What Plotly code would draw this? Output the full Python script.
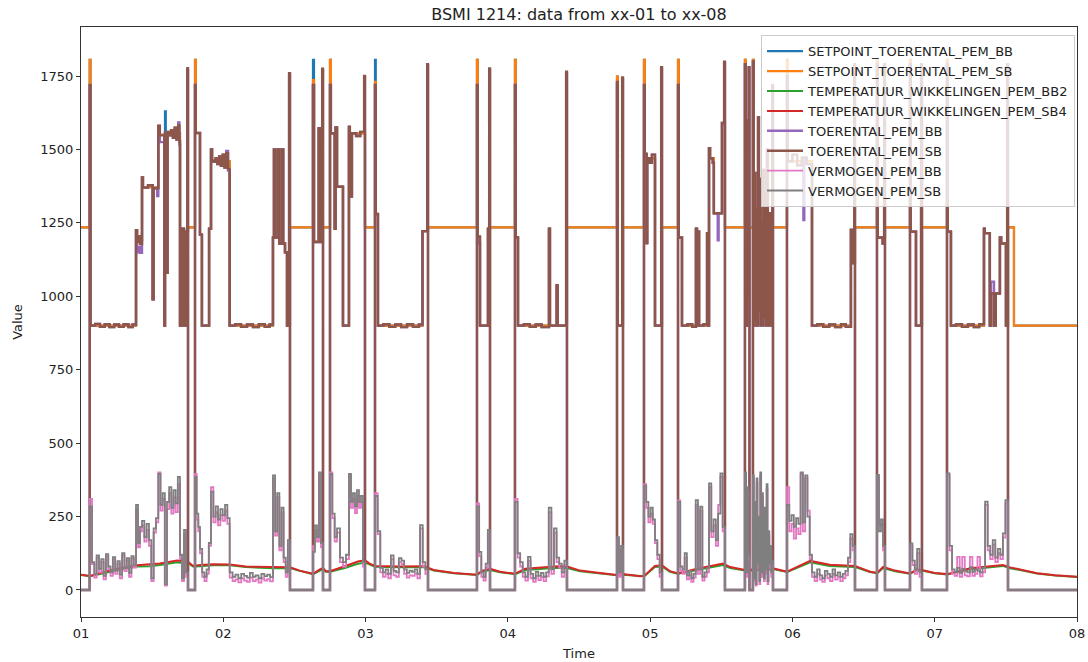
import numpy as np
import plotly.graph_objects as go

# ---------------- DATA (time in hours from day 01 00:00) ----------------
series_names = ["SETPOINT_TOERENTAL_PEM_BB", "SETPOINT_TOERENTAL_PEM_SB",
                "TEMPERATUUR_WIKKELINGEN_PEM_BB2", "TEMPERATUUR_WIKKELINGEN_PEM_SB4",
                "TOERENTAL_PEM_BB", "TOERENTAL_PEM_SB", "VERMOGEN_PEM_BB", "VERMOGEN_PEM_SB"]
day_ticks = [1, 2, 3, 4, 5, 6, 7, 8]
day_labels = ["01", "02", "03", "04", "05", "06", "07", "08"]
value_ticks = [0, 250, 500, 750, 1000, 1250, 1500, 1750]

# TOERENTAL_PEM_SB (hour, rpm) step data
toerental_sb = [
    (0.0, 0), (1.47, 1720), (1.60, 900), (2.4, 906), (3.2, 896), (4.0, 905), (4.8, 895), (5.6, 904),
    (6.4, 896), (7.2, 905), (8.0, 895), (8.7, 904),
    (9.28, 1225), (9.45, 1185), (9.7, 1205), (9.95, 1178),
    (10.29, 1405), (10.45, 1370), (11.3, 1378), (12.09, 990), (12.25, 1368),
    (13.04, 1580), (13.3, 1548), (14.05, 900), (14.17, 1556), (14.5, 1080), (14.6, 1560), (14.9, 1548),
    (15.2, 1566), (15.5, 1540), (15.8, 1574), (16.1, 1534), (16.4, 1582), (16.6, 1528),
    (16.7, 900), (17.04, 1230), (17.37, 900), (17.71, 1220), (17.93, 1777), (18.05, 0),
    (19.23, 1720), (19.36, 1556), (20.07, 1210), (20.4, 900), (21.6, 1230), (21.93, 1500), (22.1, 1462),
    (22.4, 1458), (22.7, 1470), (23.0, 1450), (23.3, 1476), (23.6, 1444), (23.9, 1482), (24.2, 1438),
    (24.5, 1487), (24.8, 1434),
    (25.08, 900), (26.0, 905), (27.0, 896), (28.0, 904), (29.0, 895), (30.0, 905), (31.0, 896), (31.8, 904),
    (32.38, 1200), (32.55, 1500), (32.75, 1200), (33.2, 1500), (33.45, 1180), (33.9, 1500), (34.1, 1180),
    (34.41, 1150), (34.75, 900), (35.1, 1760), (35.25, 0),
    (39.13, 1720), (39.3, 1185), (40.1, 1572), (40.3, 1185), (40.68, 1775), (40.82, 0),
    (42.0, 1720), (42.15, 1555), (42.8, 1230), (42.95, 1575), (43.18, 1373), (44.19, 900), (45.2, 1577),
    (45.35, 1555), (45.55, 1340), (45.7, 1555), (46.4, 1546), (47.1, 1560), (47.76, 1750), (47.9, 0),
    (49.59, 1720), (49.72, 1280), (50.09, 900), (51.0, 905), (52.0, 896), (53.0, 904), (54.0, 895),
    (55.0, 905), (56.0, 896), (57.0, 904), (57.6, 1222),
    (58.4, 1790), (58.53, 0),
    (66.79, 1720), (66.92, 1203), (67.3, 900), (68.65, 1230), (68.85, 1776), (68.99, 0),
    (73.2, 1720), (73.33, 1200), (73.71, 900), (74.7, 905), (75.7, 896), (76.7, 904), (77.7, 895),
    (78.94, 1230), (79.1, 900), (80.24, 1038),
    (80.4, 900), (81.83, 1765), (81.97, 0),
    (90.41, 1730), (90.55, 900), (91.28, 1745), (91.42, 0),
    (94.96, 1720), (95.1, 1485), (95.4, 1181), (95.5, 1470), (95.9, 1455), (96.3, 1482), (96.82, 900),
    (97.86, 1780), (98.0, 0),
    (100.7, 1720), (100.83, 1200), (101.37, 900), (102.3, 905), (103.1, 896), (103.73, 1230), (103.9, 900),
    (104.07, 1220), (104.25, 900), (105.0, 905), (105.6, 1215), (105.75, 900), (105.93, 1504),
    (106.1, 1470), (106.55, 1455),
    (106.75, 1283), (108.12, 1590), (108.48, 1799), (108.62, 0),
    (111.99, 1790), (112.12, 900), (112.3, 1600), (112.45, 1000), (112.62, 1780), (112.75, 0),
    (113.34, 1800), (113.47, 900), (113.6, 1420), (113.75, 920), (113.9, 1300), (114.05, 900),
    (114.2, 1610), (114.35, 950), (114.5, 1400), (114.65, 900), (114.8, 1250), (114.95, 900),
    (115.1, 1430), (115.25, 930), (115.4, 1350), (115.55, 900), (115.7, 1500), (115.85, 900),
    (116.0, 1283), (116.15, 900), (116.4, 1283), (116.5, 900), (116.6, 1720), (116.72, 0),
    (119.08, 1750), (119.2, 1460), (120.0, 1482), (120.8, 1446), (121.6, 1472), (122.4, 1450),
    (123.3, 900), (124.2, 905), (125.2, 896), (126.2, 904), (127.2, 895), (128.2, 905), (129.0, 896),
    (129.87, 1226), (130.2, 1113), (130.42, 1790), (130.55, 0),
    (134.26, 1790), (134.4, 1200), (135.2, 1180), (135.47, 1790), (135.61, 0),
    (139.83, 1790), (139.95, 1220), (140.84, 900), (141.7, 1790), (141.85, 0),
    (146.07, 1790), (146.2, 1220), (146.74, 900), (147.6, 905), (148.6, 896), (149.6, 904), (150.6, 895),
    (151.5, 905),
    (152.31, 1230), (152.45, 1215), (153.3, 900), (153.5, 1010), (154.0, 900), (154.3, 1010),
    (155.0, 1200), (155.2, 1180), (156.02, 900), (156.22, 1790), (156.36, 0), (168.0, 0),
]

# TOERENTAL_PEM_BB (hour, rpm)
toerental_bb = [
    (0.0, 0), (1.47, 1715), (1.60, 900), (2.4, 906), (3.2, 896), (4.0, 905), (4.8, 895), (5.6, 904),
    (6.4, 896), (7.2, 905), (8.0, 895), (8.7, 904),
    (9.28, 1225), (9.45, 1150), (9.7, 1168), (9.95, 1148),
    (10.29, 1405), (10.45, 1370), (11.3, 1378), (12.09, 990), (12.25, 1368), (12.85, 1341),
    (13.04, 1580), (13.3, 1525), (14.05, 900), (14.17, 1556), (14.5, 1080), (14.6, 1560), (14.9, 1548),
    (15.2, 1566), (15.5, 1540), (15.8, 1574), (16.1, 1534), (16.4, 1592), (16.6, 1515),
    (16.7, 900), (17.04, 1230), (17.37, 900), (17.71, 1220), (17.93, 1770), (18.05, 0),
    (19.23, 1720), (19.36, 1556), (20.07, 1210), (20.4, 900), (21.6, 1230), (21.93, 1500), (22.1, 1462),
    (22.4, 1458), (22.7, 1470), (23.0, 1450), (23.3, 1476), (23.6, 1444), (23.9, 1482), (24.2, 1438),
    (24.5, 1495), (24.8, 1428),
    (25.08, 900), (26.0, 905), (27.0, 896), (28.0, 904), (29.0, 895), (30.0, 905), (31.0, 896), (31.8, 904),
    (32.38, 1200), (32.55, 1500), (32.75, 1200), (33.2, 1500), (33.45, 1180), (33.9, 1500), (34.1, 1180),
    (34.41, 1150), (34.75, 900), (35.1, 1755), (35.25, 0),
    (39.13, 1720), (39.3, 1185), (40.1, 1572), (40.3, 1185), (40.68, 1770), (40.82, 0),
    (42.0, 1720), (42.15, 1555), (42.8, 1230), (42.95, 1575), (43.18, 1373), (44.19, 900), (45.2, 1577),
    (45.35, 1555), (45.55, 1340), (45.7, 1555), (46.4, 1546), (47.1, 1560), (47.76, 1745), (47.9, 0),
    (49.59, 1720), (49.72, 1280), (50.09, 900), (51.0, 905), (52.0, 896), (53.0, 904), (54.0, 895),
    (55.0, 905), (56.0, 896), (57.0, 904), (57.6, 1222),
    (58.4, 1785), (58.53, 0),
    (66.79, 1720), (66.92, 1180), (67.3, 900), (68.65, 1230), (68.85, 1770), (68.99, 0),
    (73.2, 1720), (73.33, 1200), (73.71, 900), (74.7, 905), (75.7, 896), (76.7, 904), (77.7, 895),
    (78.94, 1230), (79.1, 900), (80.24, 1038),
    (80.4, 900), (81.83, 1760), (81.97, 0),
    (90.41, 1725), (90.55, 900), (91.28, 1740), (91.42, 0),
    (94.96, 1720), (95.1, 1485), (95.4, 1181), (95.5, 1460), (95.9, 1455), (96.3, 1482), (96.82, 900),
    (97.86, 1775), (98.0, 0),
    (100.7, 1720), (100.83, 1200), (101.37, 900), (102.3, 905), (103.1, 896), (103.73, 1230), (103.9, 900),
    (104.07, 1220), (104.25, 900), (105.0, 905), (105.6, 1215), (105.75, 900), (105.93, 1504),
    (106.1, 1470), (106.55, 1455),
    (106.75, 1283), (107.4, 1191), (107.55, 1283), (108.12, 1590), (108.48, 1795), (108.62, 0),
    (111.99, 1790), (112.12, 900), (112.3, 1600), (112.45, 1000), (112.62, 1780), (112.75, 0),
    (113.34, 1800), (113.47, 900), (113.6, 1420), (113.75, 920), (113.9, 1300), (114.05, 900),
    (114.2, 1610), (114.35, 950), (114.5, 1400), (114.65, 900), (114.8, 1250), (114.95, 900),
    (115.1, 1430), (115.25, 930), (115.4, 1350), (115.55, 900), (115.7, 1500), (115.85, 900),
    (116.0, 1283), (116.15, 900), (116.4, 1283), (116.5, 900), (116.6, 1715), (116.72, 0),
    (119.08, 1750), (119.2, 1460), (120.0, 1482), (120.8, 1446), (121.6, 1472), (121.85, 1260),
    (122.0, 1472), (122.4, 1450),
    (123.3, 900), (124.2, 905), (125.2, 896), (126.2, 904), (127.2, 895), (128.2, 905), (129.0, 896),
    (129.87, 1226), (130.2, 1113), (130.42, 1785), (130.55, 0),
    (134.26, 1790), (134.4, 1200), (135.2, 1180), (135.47, 1785), (135.61, 0),
    (139.83, 1790), (139.95, 1220), (140.84, 900), (141.7, 1785), (141.85, 0),
    (146.07, 1790), (146.2, 1220), (146.74, 900), (147.6, 905), (148.6, 896), (149.6, 904), (150.6, 895),
    (151.5, 905),
    (152.31, 1230), (152.45, 1215), (153.3, 900), (153.5, 1050), (154.0, 900), (154.3, 1010),
    (155.0, 1200), (155.2, 1180), (156.02, 900), (156.22, 1785), (156.36, 0), (168.0, 0),
]

# SETPOINT_TOERENTAL_PEM_SB (hour, rpm)
setpoint_sb = [
    (0.0, 1235), (1.47, 1805), (1.60, 900), (9.28, 1225), (9.45, 1190), (10.29, 1405), (10.45, 1372),
    (12.09, 990), (12.25, 1370), (13.04, 1580), (13.3, 1550), (14.05, 900), (14.17, 1556), (14.5, 1080),
    (14.6, 1556), (16.7, 900), (17.04, 1230), (17.37, 900), (17.71, 1220), (18.05, 1235),
    (19.23, 1805), (19.36, 1556), (20.07, 1210), (20.4, 900), (21.6, 1230), (21.93, 1500), (22.1, 1460),
    (25.08, 900), (32.38, 1200), (32.55, 1500), (32.75, 1200), (33.2, 1500), (33.45, 1180), (33.9, 1500),
    (34.1, 1180), (34.41, 1150), (34.75, 900), (35.25, 1235),
    (39.13, 1736), (39.3, 1185), (40.1, 1572), (40.3, 1185), (40.82, 1235),
    (42.0, 1805), (42.15, 1555), (42.8, 1230), (42.95, 1575), (43.18, 1373), (44.19, 900), (45.2, 1577),
    (45.35, 1555), (45.55, 1340), (45.7, 1555), (47.9, 1235),
    (49.59, 1730), (49.72, 1280), (50.09, 900), (57.6, 1222), (58.53, 1235),
    (66.79, 1805), (66.92, 1203), (67.3, 900), (68.65, 1230), (68.99, 1235),
    (73.2, 1805), (73.33, 1200), (73.71, 900), (78.94, 1230), (79.1, 900), (80.24, 1038), (80.4, 900),
    (81.97, 1235),
    (90.41, 1748), (90.55, 900), (91.42, 1235),
    (94.96, 1805), (95.1, 1485), (95.4, 1181), (95.5, 1470), (96.82, 900), (98.0, 1235),
    (100.7, 1805), (100.83, 1200), (101.37, 900), (103.73, 1230), (103.9, 900), (104.07, 1220),
    (104.25, 900), (105.6, 1215), (105.75, 900), (105.93, 1504), (106.1, 1470), (106.75, 1283),
    (108.12, 1590), (108.62, 1235),
    (111.99, 1805), (112.12, 900), (112.75, 1235), (113.34, 1805), (113.47, 900), (113.6, 1235),
    (119.08, 1805), (119.2, 1460), (123.3, 900), (129.87, 1226), (130.2, 1113), (130.55, 1235),
    (134.26, 1805), (134.4, 1200), (135.61, 1235),
    (139.83, 1805), (139.95, 1220), (140.84, 900), (141.85, 1235),
    (146.07, 1805), (146.2, 1220), (146.74, 900), (152.31, 1230), (152.45, 1215), (153.3, 900),
    (153.5, 1010), (154.0, 900), (154.3, 1010), (155.0, 1200), (155.2, 1180), (156.02, 900),
    (156.36, 1235), (157.37, 900), (168.0, 900),
]

# SETPOINT_TOERENTAL_PEM_BB (hour, rpm)
setpoint_bb = [
    (0.0, 1235), (1.47, 1805), (1.60, 900), (9.28, 1225), (9.45, 1190), (10.29, 1405), (10.45, 1372),
    (12.09, 990), (12.25, 1370), (13.04, 1580), (13.3, 1550), (14.05, 900), (14.17, 1630), (14.3, 1556),
    (14.5, 1080), (14.6, 1556), (16.7, 900), (17.04, 1230), (17.37, 900), (17.71, 1220), (18.05, 1235),
    (19.23, 1805), (19.36, 1556), (20.07, 1210), (20.4, 900), (21.6, 1230), (21.93, 1500), (22.1, 1460),
    (25.08, 900), (32.38, 1200), (32.55, 1500), (32.75, 1200), (33.2, 1500), (33.45, 1180), (33.9, 1500),
    (34.1, 1180), (34.41, 1150), (34.75, 900), (35.25, 1235),
    (39.13, 1805), (39.3, 1185), (40.1, 1572), (40.3, 1185), (40.82, 1235),
    (42.0, 1805), (42.15, 1555), (42.8, 1230), (42.95, 1575), (43.18, 1373), (44.19, 900), (45.2, 1577),
    (45.35, 1555), (45.55, 1340), (45.7, 1555), (47.9, 1235),
    (49.59, 1805), (49.72, 1280), (50.09, 900), (57.6, 1222), (58.53, 1235),
    (66.79, 1805), (66.92, 1203), (67.3, 900), (68.65, 1230), (68.99, 1235),
    (73.2, 1805), (73.33, 1200), (73.71, 900), (78.94, 1230), (79.1, 900), (80.24, 1038), (80.4, 900),
    (81.97, 1235),
    (90.41, 1748), (90.55, 900), (91.42, 1235),
    (94.96, 1805), (95.1, 1485), (95.4, 1181), (95.5, 1470), (96.82, 900), (98.0, 1235),
    (100.7, 1805), (100.83, 1200), (101.37, 900), (103.73, 1230), (103.9, 900), (104.07, 1220),
    (104.25, 900), (105.6, 1215), (105.75, 900), (105.93, 1504), (106.1, 1470), (106.75, 1283),
    (108.12, 1590), (108.62, 1235),
    (111.99, 1805), (112.12, 900), (112.75, 1235), (113.34, 1805), (113.47, 900), (113.6, 1235),
    (119.08, 1805), (119.2, 1460), (123.3, 900), (129.87, 1226), (130.2, 1113), (130.55, 1235),
    (134.26, 1805), (134.4, 1200), (135.61, 1235),
    (139.83, 1805), (139.95, 1220), (140.84, 900), (141.85, 1235),
    (146.07, 1805), (146.2, 1220), (146.74, 900), (152.31, 1230), (152.45, 1215), (153.3, 900),
    (153.5, 1010), (154.0, 900), (154.3, 1010), (155.0, 1200), (155.2, 1180), (156.02, 900),
    (156.36, 1235), (157.37, 900), (168.0, 900),
]

# Winding temperatures (hour grid shared by both)
temp_time_h = [0.0, 1.52, 4.0, 6.6, 9.45, 11.6, 13.3, 16.2, 18.05, 18.9, 20.07, 22.3, 25.1, 27.8, 32.4,
               35.25, 36.9, 39.13, 40.3, 40.82, 41.3, 42.0, 44.5, 46.7, 47.9, 48.7, 49.6, 53.8, 57.85,
               59.5, 62.9, 66.8, 67.6, 69.0, 70.7, 73.2, 74.9, 80.5, 82.0, 84.2, 87.5, 90.4, 91.4, 94.3,
               95.0, 96.8, 98.0, 99.35, 100.7, 103.9, 108.3, 109.5, 112.0, 114.5, 116.7, 119.1, 123.0,
               126.3, 130.55, 133.1, 134.3, 135.3, 137.3, 139.8, 141.0, 141.85, 144.0, 146.1, 150.0,
               155.5, 156.7, 158.4, 161.25, 164.3, 168.0]
temp_sb4 = [52, 48, 62, 74, 84, 86, 90, 100, 96, 82, 85, 88, 87, 80, 77, 77, 66, 55, 70, 75, 64, 64, 81,
            97, 101, 90, 82, 80, 81, 68, 58, 52, 65, 72, 62, 55, 72, 81, 80, 66, 58, 51, 54, 47, 48, 82,
            84, 64, 56, 72, 90, 78, 68, 70, 74, 62, 99, 86, 82, 62, 58, 79, 66, 56, 70, 68, 58, 54, 74,
            85, 77, 70, 57, 50, 45]
temp_bb2 = [51, 47, 58, 70, 80, 81, 85, 94, 91, 80, 81, 84, 84, 78, 74, 75, 65, 54, 66, 71, 62, 62, 75,
            89, 93, 86, 79, 77, 78, 66, 57, 51, 62, 68, 60, 54, 68, 76, 75, 64, 57, 50, 52, 46, 47, 78,
            80, 62, 55, 68, 85, 75, 66, 67, 71, 61, 94, 82, 78, 61, 57, 75, 64, 55, 67, 66, 57, 53, 71,
            82, 74, 68, 56, 49, 44]

# Power: running stretches (start/end hour) and readings sampled evenly within each stretch
power_start_h = [1.47, 9.28, 10.29, 13.04, 16.7, 19.23, 20.07, 21.93, 25.08, 32.38, 39.13, 42.0, 43.18,
                 45.2, 49.59, 66.79, 73.2, 90.41, 94.96, 96.82, 100.7, 105.93, 111.99, 113.34, 119.08,
                 123.3, 129.37, 134.26, 139.83, 146.07]
power_end_h = [9.28, 10.29, 13.04, 16.7, 18.05, 20.07, 21.93, 25.08, 32.38, 35.25, 40.82, 43.18, 45.2,
               47.9, 58.53, 68.99, 81.97, 91.42, 96.82, 98.0, 105.93, 108.62, 112.75, 116.72, 123.3,
               129.37, 130.55, 135.61, 141.85, 156.36]
vermogen_sb = [
    [285, 95, 55, 118, 72, 105, 48, 122, 80, 60, 112, 66, 98, 52, 125, 75, 108, 58, 115, 85],
    [290, 160, 215],
    [235, 180, 225, 170, 40, 210, 245],
    [395, 290, 330, 20, 300, 350, 280, 340, 295, 385],
    [120, 40, 205, 60],
    [385, 260, 215],
    [140, 60, 45, 70, 160],
    [335, 250, 285, 240, 275, 255, 290, 245],
    [60, 45, 52, 40, 55, 48, 42, 58, 45, 50, 40, 55, 47, 52, 44],
    [390, 200, 330, 150, 280, 110, 60, 170],
    [130, 220, 180, 400, 160],
    [395, 260, 180],
    [210, 110, 95, 120],
    [395, 300, 330, 285, 340, 300, 320, 95],
    [320, 200, 75, 60, 70, 55, 118, 65, 60, 108, 100, 70, 58, 66, 62, 70, 55, 221, 95, 70],
    [285, 130, 60, 45, 90, 205],
    [300, 125, 95, 60, 45, 113, 55, 40, 62, 48, 58, 45, 60, 280, 70, 210, 110, 90, 60, 100],
    [180, 60, 150],
    [355, 300, 250, 280, 240],
    [170, 120, 60],
    [300, 80, 70, 125, 50, 65, 40, 55, 306, 70, 284, 45, 60, 75],
    [363, 200, 240, 170, 260, 397, 215],
    [400, 60, 350, 120],
    [390, 40, 300, 20, 380, 90, 250, 30, 400, 60, 330, 150, 40, 280, 70, 360, 30, 200, 90, 150, 60, 100],
    [290, 235, 255, 215, 245, 225, 400, 230, 390, 250, 120],
    [60, 45, 70, 50, 40, 65, 55, 45, 70, 50, 60, 45, 55, 65],
    [110, 190, 150],
    [392, 200, 240, 150],
    [159, 100, 70, 140, 60],
    [397, 150, 70, 62, 75, 58, 72, 65, 60, 78, 62, 70, 66, 60, 75, 301, 150, 120, 170, 110, 140, 120, 193, 306],
]
vermogen_bb = [
    [310, 88, 42, 110, 60, 96, 36, 115, 70, 48, 104, 55, 90, 40, 118, 64, 100, 45, 108, 76],
    [275, 145, 200],
    [220, 165, 205, 150, 30, 195, 230],
    [400, 270, 310, 15, 275, 330, 260, 315, 265, 360],
    [105, 30, 190, 45],
    [395, 240, 200],
    [125, 45, 30, 55, 150],
    [350, 230, 265, 220, 255, 235, 270, 225],
    [42, 30, 36, 26, 40, 32, 28, 42, 30, 35, 25, 40, 32, 37, 29],
    [380, 185, 315, 135, 265, 95, 45, 155],
    [150, 205, 165, 390, 145],
    [400, 245, 165],
    [195, 95, 80, 105],
    [390, 280, 310, 262, 320, 280, 300, 80],
    [330, 190, 60, 45, 55, 40, 105, 50, 45, 95, 88, 55, 42, 50, 48, 56, 40, 210, 80, 55],
    [295, 115, 45, 32, 75, 190],
    [310, 110, 80, 45, 32, 100, 40, 28, 48, 34, 44, 30, 46, 265, 55, 195, 95, 75, 45, 85],
    [170, 45, 135],
    [360, 280, 230, 260, 225],
    [160, 105, 45],
    [305, 65, 55, 110, 36, 50, 28, 42, 290, 55, 270, 32, 45, 60],
    [350, 180, 220, 150, 290, 385, 200],
    [390, 45, 335, 105],
    [380, 30, 285, 15, 365, 75, 235, 20, 390, 45, 315, 135, 30, 265, 55, 345, 20, 185, 75, 135, 45, 85],
    [350, 200, 225, 175, 210, 190, 395, 200, 380, 270, 105],
    [45, 30, 55, 35, 28, 50, 40, 30, 55, 35, 45, 30, 40, 50],
    [95, 175, 135],
    [385, 220, 225, 135],
    [150, 85, 55, 125, 45],
    [390, 135, 55, 48, 113, 45, 113, 50, 46, 113, 48, 55, 113, 46, 60, 290, 135, 105, 155, 95, 125, 105, 178, 295],
]

colors = ["#1f77b4", "#ff7f0e", "#2ca02c", "#d62728", "#9467bd", "#8c564b", "#e377c2", "#7f7f7f"]


# ---------------- helpers ----------------
def to_day(hours):
    return [1 + h / 24.0 for h in hours]


def unpack(pairs):
    return to_day([p[0] for p in pairs]), [p[1] for p in pairs]


def power_series(value_lists):
    hx, vy = [0.0], [0]
    for i, (s, e, vals) in enumerate(zip(power_start_h, power_end_h, value_lists)):
        step = (e - s) / len(vals)
        for k, v in enumerate(vals):
            hx.append(s + k * step)
            vy.append(v)
        nxt = power_start_h[i + 1] if i + 1 < len(power_start_h) else None
        if nxt is None or nxt > e + 1e-6:
            hx.append(e)
            vy.append(0)
    hx.append(168.0)
    vy.append(0)
    return to_day(hx), vy


fig = go.Figure()


def add(x, y, name, color, width, shape="hv"):
    fig.add_trace(go.Scatter(x=x, y=y, mode="lines", name=name, legendgroup=name,
                             line=dict(color=color, width=width, shape=shape)))


add(*unpack(setpoint_bb), series_names[0], colors[0], 2.2)
add(*unpack(setpoint_sb), series_names[1], colors[1], 2.2)
add(to_day(temp_time_h), temp_bb2, series_names[2], colors[2], 2, "linear")
add(to_day(temp_time_h), temp_sb4, series_names[3], colors[3], 2, "linear")
add(*unpack(toerental_bb), series_names[4], colors[4], 2.4)
add(*unpack(toerental_sb), series_names[5], colors[5], 2.4)
add(*power_series(vermogen_bb), series_names[6], colors[6], 1.8)
add(*power_series(vermogen_sb), series_names[7], colors[7], 1.8)

axis_common = dict(showline=True, mirror=True, linecolor="#333333", linewidth=1, ticks="outside",
                   ticklen=4, tickcolor="#333333", showgrid=False, zeroline=False, automargin=False,
                   tickfont=dict(family="DejaVu Sans", size=13, color="#222222"))

fig.update_layout(
    width=1088, height=662,
    margin=dict(l=81, r=11, t=27, b=45, autoexpand=False),
    paper_bgcolor="white", plot_bgcolor="white",
    font=dict(family="DejaVu Sans", color="#222222"),
    title=dict(text="BSMI 1214: data from xx-01 to xx-08", x=0.5, xref="paper",
               y=1 - 14 / 662, yref="container", yanchor="middle", xanchor="center",
               font=dict(size=16, family="DejaVu Sans", color="#222222")),
    xaxis=dict(range=[1, 8], tickvals=day_ticks, ticktext=day_labels,
               title=dict(text="Time", standoff=9, font=dict(size=13)), **axis_common),
    yaxis=dict(range=[-92, 1917], tickvals=value_ticks,
               title=dict(text="Value", standoff=14, font=dict(size=13)), **axis_common),
    legend=dict(x=0.998, y=0.986, xanchor="right", yanchor="top",
                bgcolor="rgba(255,255,255,0.8)", bordercolor="#cccccc", borderwidth=1,
                font=dict(size=13, family="DejaVu Sans", color="#222222"),
                traceorder="grouped", tracegroupgap=0, itemwidth=36),
    showlegend=True,
)

fig.write_html("out.html")
